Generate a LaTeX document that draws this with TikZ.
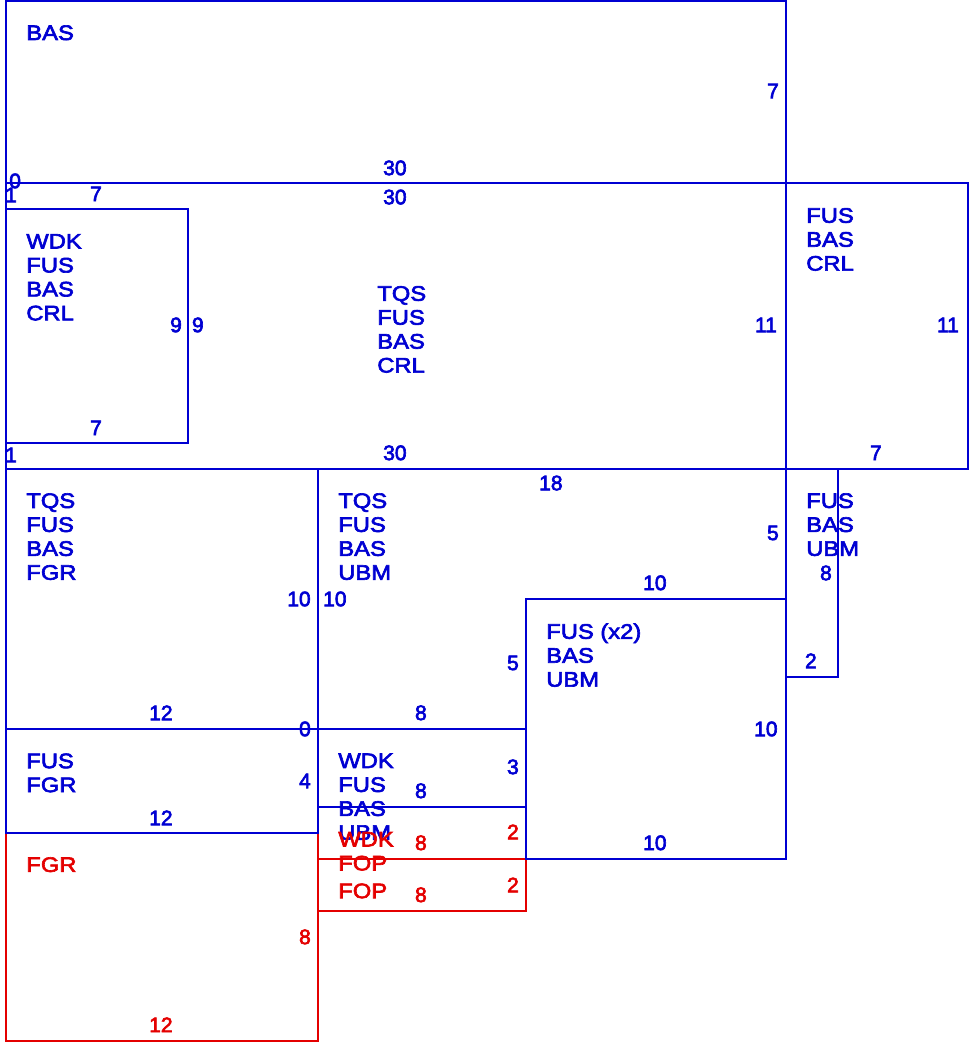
\documentclass[tikz,border=0pt]{standalone}
\usepackage{fontspec}
\setmainfont{Liberation Sans}[FakeBold=3]
\newfontfamily\namefont{Liberation Sans}[FakeStretch=1.13, FakeBold=3]
\definecolor{cutblue}{RGB}{0,0,210}
\definecolor{cutred}{RGB}{228,0,0}
\begin{document}
\begin{tikzpicture}[x=0.5cm, y=-0.5cm,
    part/.style={draw=cutblue, line width=0.8pt},
    redpart/.style={draw=cutred, line width=0.8pt},
    names/.style={anchor=north west, align=left, inner sep=0pt, text=cutblue,
        font=\namefont\fontsize{11.5}{13.1}\selectfont},
    rednames/.style={names, text=cutred},
    size/.style={inner sep=0pt, text=cutblue, font=\fontsize{11.5}{13.1}\selectfont},
    redsize/.style={size, text=cutred}]
\useasboundingbox (-0.23,-0.04) rectangle (37.23,40.31);
\draw[redpart] (0,32) rectangle (12,40);
\draw[redpart] (12,31) rectangle (20,33);
\draw[redpart] (12,33) rectangle (20,35);
\draw[part] (0,0) rectangle (30,7);
\draw[part] (0,7) rectangle (30,18);
\draw[part] (30,7) rectangle (37,18);
\draw[part] (0,8) rectangle (7,17);
\draw[part] (0,18) rectangle (12,28);
\draw[part] (12,18) -- (30,18) -- (30,23) -- (20,23) -- (20,28) -- (12,28) -- cycle;
\draw[part] (20,23) rectangle (30,33);
\draw[part] (30,18) rectangle (32,26);
\draw[part] (0,28) rectangle (12,32);
\draw[part] (12,28) rectangle (20,31);
% part names
\node[names] (bas) at (0.77,0.92) {BAS};
\node[names] (wdk) at (0.77,8.95) {WDK\\FUS\\BAS\\CRL};
\node[names] (tqs) at (14.27,10.95) {TQS\\FUS\\BAS\\CRL};
\node[names] (crl) at (30.77,7.95) {FUS\\BAS\\CRL};
\node[names] (fgr) at (0.77,18.92) {TQS\\FUS\\BAS\\FGR};
\node[names] (ubm) at (12.77,18.92) {TQS\\FUS\\BAS\\UBM};
\node[names] (twofus) at (20.77,23.93) {FUS (x2)\\BAS\\UBM};
\node[names] (narrow) at (30.77,18.92) {FUS\\BAS\\UBM};
\node[names] (fusfgr) at (0.77,28.93) {FUS\\FGR};
\node[names] (wdkubm) at (12.77,28.93) {WDK\\FUS\\BAS\\UBM};
\node[rednames] (wdkfop) at (12.77,31.95) {WDK\\FOP};
\node[rednames] (fop) at (12.77,33.93) {FOP};
\node[rednames] (redfgr) at (0.77,32.92) {FGR};
% sizes
\node[size] (s1) at (14.96,6.42) {30};
\node[size] (s2) at (29.5,3.46) {7};
\node[size] (s3) at (0.35,6.92) {0};
\node[size] (s4) at (0.19,7.46) {1};
\node[size] (s5) at (3.46,7.42) {7};
\node[size] (s6) at (14.96,7.54) {30};
\node[size] (s7) at (6.54,12.46) {9};
\node[size] (s8) at (7.38,12.46) {9};
\node[size] (s9) at (29.23,12.46) {11};
\node[size] (s10) at (36.23,12.46) {11};
\node[size] (s11) at (3.46,16.42) {7};
\node[size] (s12) at (0.19,17.46) {1};
\node[size] (s13) at (14.96,17.38) {30};
\node[size] (s14) at (33.46,17.38) {7};
\node[size] (s15) at (20.96,18.54) {18};
\node[size] (s16) at (29.5,20.46) {5};
\node[size] (s17) at (31.54,22) {8};
\node[size] (s18) at (24.96,22.38) {10};
\node[size] (s19) at (11.27,23) {10};
\node[size] (s20) at (12.65,23) {10};
\node[size] (s21) at (19.5,25.46) {5};
\node[size] (s22) at (30.96,25.38) {2};
\node[size] (s23) at (5.96,27.38) {12};
\node[size] (s24) at (15.96,27.38) {8};
\node[size] (s25) at (11.5,28) {0};
\node[size] (s26) at (29.23,28) {10};
\node[size] (s27) at (19.5,29.46) {3};
\node[size] (s28) at (11.5,30) {4};
\node[size] (s29) at (15.96,30.38) {8};
\node[size] (s30) at (5.96,31.42) {12};
\node[size] (s31) at (24.96,32.38) {10};
\node[redsize] (r1) at (19.5,31.96) {2};
\node[redsize] (r2) at (15.96,32.38) {8};
\node[redsize] (r3) at (19.5,34) {2};
\node[redsize] (r4) at (15.96,34.38) {8};
\node[redsize] (r5) at (11.5,36) {8};
\node[redsize] (r6) at (5.96,39.38) {12};
\end{tikzpicture}
\end{document}
